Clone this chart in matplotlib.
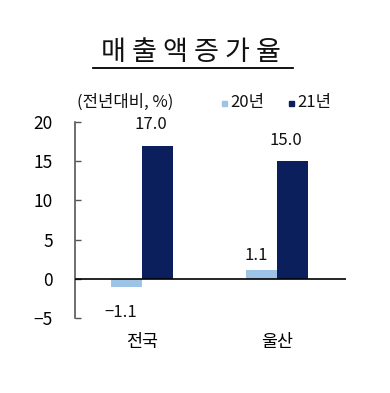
import matplotlib
matplotlib.use("Agg")
import matplotlib.pyplot as plt
from matplotlib.lines import Line2D
from matplotlib.patches import Rectangle

plt.rcParams['font.family'] = ['Noto Sans CJK KR', 'DejaVu Sans']

categories = ['전국', '울산']
series_names = ['20년', '21년']
values_20 = [-1.1, 1.1]
values_21 = [17.0, 15.0]
yticks = [-5, 0, 5, 10, 15, 20]
title = '매 출 액 증 가 율'
unit_label = '(전년대비, %)'

c20 = '#9DC3E6'
c21 = '#0A1F5C'

W, H = 390, 393
fig = plt.figure(figsize=(W/100, H/100), dpi=100)
ax = fig.add_axes([75/W, 1-318/H, (346-75)/W, (318-122)/H])

x = [0, 1]
bw = 0.232
ax.bar([i - bw/2 for i in x], values_20, width=bw, color=c20, zorder=2)
ax.bar([i + bw/2 for i in x], values_21, width=bw, color=c21, zorder=2)

for i, v in enumerate(values_20):
    off = 1.9 if v >= 0 else -3.2
    ax.text(i - bw/2 - 0.04, v + off, f'{v:.1f}'.replace('-', '−'), ha='center', va='center',
            fontsize=12, color='#111111')
for i, v in enumerate(values_21):
    ax.text(i + bw/2 - 0.05, v + 2.7, f'{v:.1f}', ha='center', va='center',
            fontsize=12, color='#111111')

ax.set_xlim(-0.496, 1.51)
ax.set_ylim(-5, 20)
ax.set_yticks(yticks)
ax.set_yticklabels([str(t).replace('-', '−') for t in yticks], fontsize=12.5)
ax.tick_params(axis='y', direction='in', length=4, width=1, color='#555555', pad=16)
ax.set_xticks([])
for s in ['top', 'right', 'bottom']:
    ax.spines[s].set_visible(False)
ax.spines['left'].set_color('#555555')
ax.spines['left'].set_linewidth(1.2)
ax.axhline(0, color='black', lw=1.2, zorder=3)

for i, c in enumerate(categories):
    ax.text(i, -8.0, c, ha='center', va='center', fontsize=12.5, color='black', clip_on=False)

# title
fig.text(191/W, 1-53/H, title, ha='center', va='center', fontsize=19.5, color='#111111')
fig.add_artist(Line2D([93/W, 293/W], [1-68/H, 1-68/H], color='black', lw=1.3))

# unit label
fig.text(125/W, 1-102/H, unit_label, ha='center', va='center', fontsize=12, color='#111111')

# legend
for (xs, name, col) in [(222, series_names[0], c20), (289, series_names[1], c21)]:
    fig.add_artist(Rectangle((xs/W, 1-106/H), 5/W, 5/H, color=col))
    fig.text((xs+8)/W, 1-103/H, name, ha='left', va='center', fontsize=12, color='#111111')

fig.savefig('out.png', dpi=100)
